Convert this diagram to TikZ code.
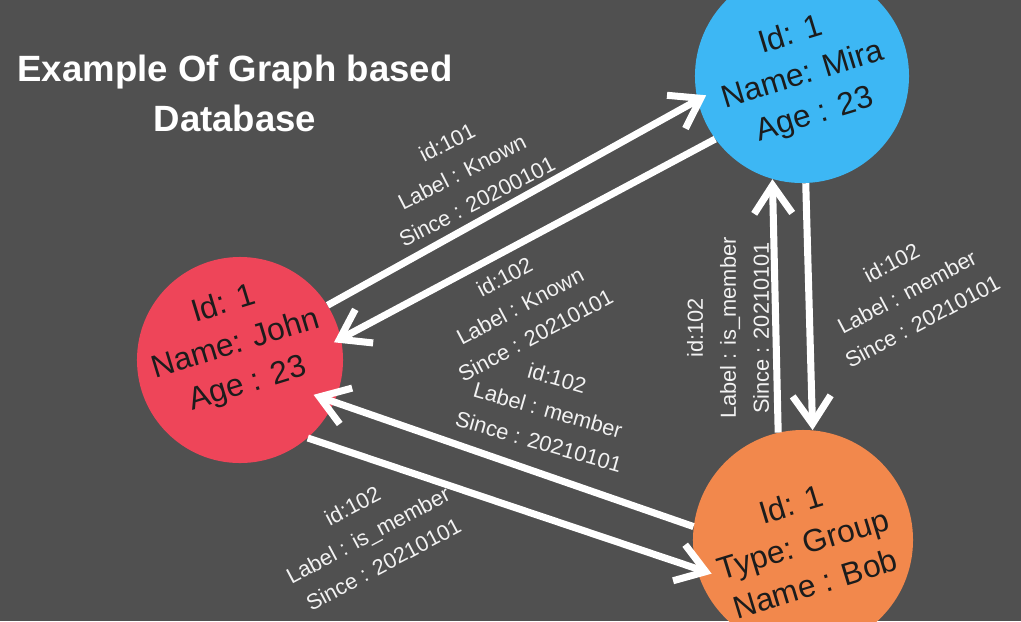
\documentclass[tikz,border=0pt]{standalone}
\usepackage{fontspec}
\setmainfont{Liberation Sans}
\usetikzlibrary{arrows.meta}

\definecolor{bgcol}{HTML}{505050}
\definecolor{johncol}{HTML}{EE4559}
\definecolor{miracol}{HTML}{3DB7F4}
\definecolor{bobcol}{HTML}{F2884C}
\definecolor{inkcol}{HTML}{1C1C1C}
\definecolor{labcol}{HTML}{F2F2F2}

\begin{document}
\begin{tikzpicture}
    [x=0.025cm, y=-0.025cm,
    entity/.style={circle, inner sep=0pt},
    entitytext/.style={text=inkcol, align=center, rotate=17,
        font=\fontsize{22.5pt}{29.5pt}\selectfont},
    reltext/.style={text=labcol, align=center,
        font=\fontsize{15.5pt}{23.5pt}\selectfont},
    rel/.style={draw=white, line width=5pt,
        -{Straight Barb[length=0.7cm, width=0.95cm]}},
    title/.style={text=white, align=center,
        font=\fontsize{26pt}{35.5pt}\selectfont\bfseries}]

    \useasboundingbox (0,0) rectangle (1021,621);
    \fill[bgcol] (0,0) rectangle (1021,621);
    \clip (0,0) rectangle (1021,621);

    % title
    \node[title] (heading) at (235,93) {Example Of Graph based\\Database};

    % entities
    \node[entity, fill=johncol, minimum size=5.15cm] (john) at (240,360) {};
    \node[entity, fill=miracol, minimum size=5.35cm] (mira) at (802,76) {};
    \node[entity, fill=bobcol, minimum size=5.5cm] (bob) at (803,540) {};

    \node[entitytext] (johntxt) at (236,345) {Id: 1\\Name: John\\Age : 23};
    \node[entitytext] (miratxt) at (803,76) {Id: 1\\Name: Mira\\Age : 23};
    \node[entitytext] (bobtxt) at (803,544) {Id: 1\\Type: Group\\Name : Bob};

    % relations
    \draw[rel, shorten >=-0.25cm] (john.32) -- (mira.193);
    \draw[rel, shorten >=-0.2cm] (mira.216) -- (john.12);
    \draw[rel, shorten >=-0.55cm] (bob.173) -- (john.-24);
    \draw[rel, shorten >=-0.4cm] (john.-49) -- (bob.195);
    \draw[rel] (bob.103) -- (mira.254);
    \draw[rel] (mira.272) -- (bob.85);

    % relation properties
    \node[reltext, rotate=27] (known1) at (462,172)
        {id:101\\Label : Known\\Since : 20200101};
    \node[reltext, rotate=28] (known2) at (520,306)
        {id:102\\Label : Known\\Since : 20210101};
    \node[reltext, rotate=-16] (member1) at (548,410)
        {id:102\\Label : member\\Since : 20210101};
    \node[reltext, rotate=28] (ismember1) at (368,535)
        {id:102\\Label : is\_member\\Since : 20210101};
    \node[reltext, rotate=90] (ismember2) at (728,328)
        {id:102\\Label : is\_member\\Since : 20210101};
    \node[reltext, rotate=28] (member2) at (907,292)
        {id:102\\Label : member\\Since : 20210101};
\end{tikzpicture}
\end{document}
